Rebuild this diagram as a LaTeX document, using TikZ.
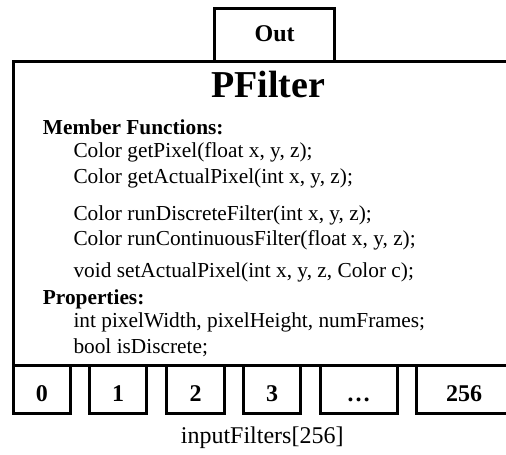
\documentclass[tikz,border=0pt]{standalone}
\usepackage{fontspec}
\setmainfont{Liberation Serif}
\begin{document}
\begin{tikzpicture}[x=1pt,y=-1pt,
  box/.style={draw, line width=3pt, inner sep=0pt},
  numtxt/.style={anchor=base, inner sep=0pt, font=\fontsize{24}{24}\selectfont\bfseries},
  itemtxt/.style={anchor=base west, inner sep=0pt, font=\fontsize{21.33}{24}\selectfont},
  headtxt/.style={anchor=base west, inner sep=0pt, font=\fontsize{21.33}{24}\selectfont\bfseries},
  titletxt/.style={anchor=base, inner sep=0pt, font=\fontsize{38}{40}\selectfont\bfseries},
  captxt/.style={anchor=base, inner sep=0pt, font=\fontsize{24}{24}\selectfont}]
\useasboundingbox (0,0) rectangle (506,455);
\clip (0,0) rectangle (506,455);
% Out box
\node[box, minimum width=120.2pt, minimum height=52.7pt] (out) at (274.6,34.85) {};
\node[numtxt] (outtxt) at (274.6,41.7) {Out};
% main box
\node[box, minimum width=509.5pt, minimum height=304.3pt] (main) at (268.25,213.35) {};
\node[titletxt] (title) at (268,97) {PFilter};
\node[headtxt] (mf) at (42.7,134) {Member Functions:};
\node[itemtxt] (f1) at (73.3,157.5) {Color getPixel(float x, y, z);};
\node[itemtxt] (f2) at (73.3,183) {Color getActualPixel(int x, y, z);};
\node[itemtxt] (f3) at (73.3,220) {Color runDiscreteFilter(int x, y, z);};
\node[itemtxt] (f4) at (73.3,245.5) {Color runContinuousFilter(float x, y, z);};
\node[itemtxt] (f5) at (73.3,277.5) {void setActualPixel(int x, y, z, Color c);};
\node[headtxt] (pr) at (42.7,304) {Properties:};
\node[itemtxt] (p1) at (73.3,327) {int pixelWidth, pixelHeight, numFrames;};
\node[itemtxt] (p2) at (73.3,353) {bool isDiscrete;};
% input filter boxes
\node[box, minimum width=56.5pt, minimum height=48pt] (b0) at (41.75,389.5) {};
\node[box, minimum width=57.4pt, minimum height=48pt] (b1) at (118,389.5) {};
\node[box, minimum width=57.6pt, minimum height=48pt] (b2) at (195.5,389.5) {};
\node[box, minimum width=57.4pt, minimum height=48pt] (b3) at (272,389.5) {};
\node[box, minimum width=76.7pt, minimum height=48pt] (bd) at (358.65,389.5) {};
\node[box, minimum width=95.7pt, minimum height=48pt] (bl) at (464.15,389.5) {};
\node[numtxt] (t0) at ([yshift=-12.2pt]b0.center) {0};
\node[numtxt] (t1) at ([yshift=-12.2pt]b1.center) {1};
\node[numtxt] (t2) at ([yshift=-12.2pt]b2.center) {2};
\node[numtxt] (t3) at ([yshift=-12.2pt]b3.center) {3};
\node[numtxt] (td) at ([yshift=-12.2pt]bd.center) {…};
\node[numtxt] (tl) at ([yshift=-12.2pt]bl.center) {256};
\node[captxt] (cap) at (262.2,443) {inputFilters[256]};
\end{tikzpicture}
\end{document}
